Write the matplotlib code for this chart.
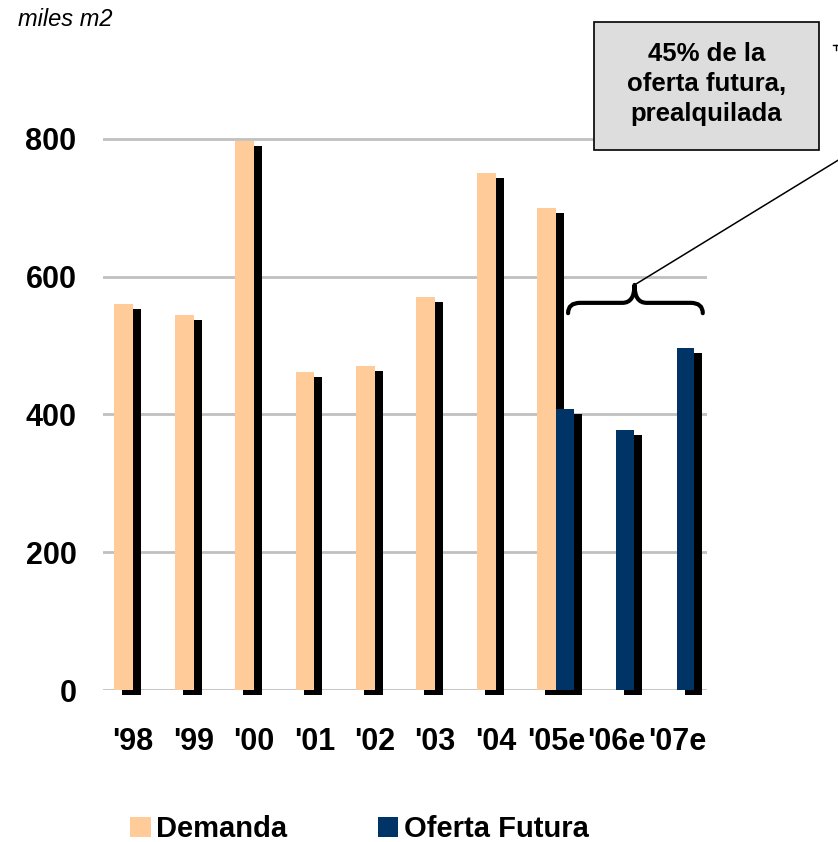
import numpy as np
import matplotlib.pyplot as plt
from matplotlib.patches import Rectangle, PathPatch
from matplotlib.path import Path
from matplotlib.lines import Line2D

plt.rcParams['font.family'] = ['Liberation Sans', 'DejaVu Sans']

# Office space take-up vs. future supply (thousand m2)
years = ["'98", "'99", "'00", "'01", "'02", "'03", "'04", "'05e", "'06e", "'07e"]
demanda = [560, 545, 797, 462, 471, 571, 750, 700, 0, 0]
oferta = [0, 0, 0, 0, 0, 0, 0, 408, 377, 497]

c_dem = '#FFCC99'
c_ofe = '#003366'

fig = plt.figure(figsize=(8.38, 8.42), dpi=100)
W, H = 838, 842
ax = fig.add_axes([103 / W, (H - 690) / H, 604 / W, 620 / H])

x = np.arange(len(years))
w_dem, w_ofe = 0.31, 0.29
x_dem = x - w_dem / 2
x_ofe = x + w_ofe / 2

# drop shadow: 8 px right, 5 px down
px_x = 60.4
px_y = 620 / 900
sx = 8 / px_x
sy = 5 / px_y

dem = np.array(demanda, dtype=float)
ofe = np.array(oferta, dtype=float)
m_dem = dem > 0
m_ofe = ofe > 0

sh1 = ax.bar(x_dem[m_dem] + sx, dem[m_dem], w_dem, bottom=-sy, color='black', zorder=2)
sh2 = ax.bar(x_ofe[m_ofe] + sx, ofe[m_ofe], w_ofe, bottom=-sy, color='black', zorder=2)
for p in list(sh1) + list(sh2):
    p.set_clip_on(False)
b1 = ax.bar(x_dem[m_dem], dem[m_dem], w_dem, color=c_dem, zorder=3, label='Demanda')
b2 = ax.bar(x_ofe[m_ofe], ofe[m_ofe], w_ofe, color=c_ofe, zorder=3, label='Oferta Futura')

ax.set_xlim(-0.5, 9.5)
ax.set_ylim(0, 900)
ax.set_yticks([0, 200, 400, 600, 800])
ax.set_xticks(x)
ax.set_xticklabels(years, fontsize=22, fontweight='bold')
for t in ax.get_yticklabels():
    t.set_fontsize(22)
    t.set_fontweight('bold')
ax.tick_params(axis='both', length=0)
ax.tick_params(axis='y', pad=19)
ax.tick_params(axis='x', pad=27)
for s in ax.spines.values():
    s.set_visible(False)
ax.yaxis.grid(True, color='#C0C0C0', linewidth=2, zorder=1)
ax.set_axisbelow(True)

# curly brace over the forecast years
x0, x1, xm = 7.20, 9.43, 8.30
y_end, y_mid, y_tip = 547, 562, 588
r = 0.2
verts = [(x0, y_end), (x0, y_mid), (x0 + r, y_mid), (xm - r, y_mid),
         (xm, y_mid), (xm, y_tip),
         (xm, y_mid), (xm + r, y_mid), (x1 - r, y_mid),
         (x1, y_mid), (x1, y_end)]
codes = [Path.MOVETO, Path.CURVE3, Path.CURVE3, Path.LINETO,
         Path.CURVE3, Path.CURVE3,
         Path.CURVE3, Path.CURVE3, Path.LINETO,
         Path.CURVE3, Path.CURVE3]
ax.add_patch(PathPatch(Path(verts, codes), facecolor='none', edgecolor='black',
                       lw=3, capstyle='round', joinstyle='round', zorder=4, clip_on=False))

ax.annotate('', xy=(xm, y_tip), xycoords='data',
            xytext=(845 / W, (H - 156) / H), textcoords='figure fraction',
            arrowprops=dict(arrowstyle='-', lw=1.1, color='black', shrinkA=0, shrinkB=0))

# callout box
fig.patches.append(Rectangle((594 / W, (H - 150) / H), 225 / W, 128 / H,
                             transform=fig.transFigure, facecolor='#DDDDDD',
                             edgecolor='black', lw=1.2, zorder=5))
fig.text(706.5 / W, (H - 84) / H, '45% de la\noferta futura,\nprealquilada',
         ha='center', va='center', fontsize=18.5, fontweight='bold',
         linespacing=1.3, zorder=6)

fig.lines.append(Line2D([833 / W, 1.0], [(H - 45) / H, (H - 45) / H],
                        transform=fig.transFigure, color='black', lw=1))
fig.lines.append(Line2D([836 / W, 836 / W], [(H - 45) / H, (H - 50) / H],
                        transform=fig.transFigure, color='black', lw=1))

fig.text(18 / W, (H - 20) / H, 'miles m2', fontsize=17, fontstyle='italic',
         ha='left', va='center')

fig.legend(handles=[b1, b2], loc='center left', bbox_to_anchor=(104 / W, (H - 829) / H),
           ncol=2, frameon=False, handlelength=0.7, handleheight=0.7,
           handletextpad=0.2, columnspacing=3.1,
           prop={'size': 21, 'weight': 'bold'})

fig.savefig('out.png', dpi=100)
